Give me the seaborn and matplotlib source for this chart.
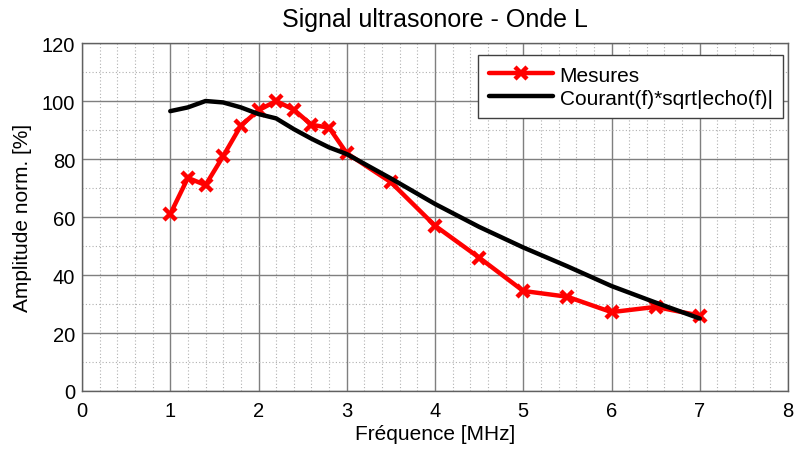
import matplotlib
matplotlib.use("Agg")
import matplotlib.pyplot as plt
from matplotlib.ticker import MultipleLocator
import pandas as pd
import seaborn as sns

# Measured amplitudes
freq_mes = [1.0, 1.2, 1.4, 1.6, 1.8, 2.0, 2.2, 2.4, 2.6, 2.8, 3.0, 3.5, 4.0, 4.5, 5.0, 5.5, 6.0, 6.5, 7.0]
ampl_mes = [61, 73.5, 71, 81, 91.5, 96.8, 100, 97, 91.8, 90.8, 82, 72, 57, 46, 34.5, 32.5, 27.2, 29, 26]

# Model: current(f) * sqrt|echo(f)|
freq_mod = [1.0, 1.2, 1.4, 1.6, 1.8, 2.0, 2.2, 2.4, 2.6, 2.8, 3.0, 3.5, 4.0, 4.5, 5.0, 5.5, 6.0, 6.5, 7.0]
ampl_mod = [96.5, 97.8, 100, 99.5, 97.8, 95.5, 94, 90.3, 87, 84, 81.7, 73.3, 64.5, 56.6, 49.5, 43, 36.2, 30.5, 25]

labels = ["Mesures", "Courant(f)*sqrt|echo(f)|"]

sns.set_style("white")
plt.rcParams["font.family"] = ["Liberation Sans", "DejaVu Sans"]
plt.rcParams["text.color"] = "black"
plt.rcParams["axes.labelcolor"] = "black"
plt.rcParams["xtick.color"] = "black"
plt.rcParams["ytick.color"] = "black"

df_mes = pd.DataFrame({"f": freq_mes, "a": ampl_mes})
df_mod = pd.DataFrame({"f": freq_mod, "a": ampl_mod})

fig = plt.figure(figsize=(7.95, 4.52), dpi=100)
ax = fig.add_axes([82 / 795, 1 - 392 / 452, (788 - 82) / 795, (392 - 44) / 452])

sns.lineplot(data=df_mes, x="f", y="a", ax=ax, color="#ff0000", lw=3.2,
             marker="x", markersize=8, markeredgewidth=3.2, markeredgecolor="#ff0000",
             label=labels[0], zorder=3)
sns.lineplot(data=df_mod, x="f", y="a", ax=ax, color="black", lw=3.2,
             label=labels[1], zorder=3)

ax.set_xlim(0, 8)
ax.set_ylim(0, 120)
ax.xaxis.set_major_locator(MultipleLocator(1))
ax.xaxis.set_minor_locator(MultipleLocator(0.2))
ax.yaxis.set_major_locator(MultipleLocator(20))
ax.yaxis.set_minor_locator(MultipleLocator(10))
ax.grid(which="major", color="#7f7f7f", lw=1.0, ls="-")
ax.grid(which="minor", color="#b0b0b0", lw=0.8, ls=(0, (1, 2)))
ax.set_axisbelow(True)

for s in ax.spines.values():
    s.set_color("#606060")
    s.set_linewidth(1.0)

ax.tick_params(which="major", labelsize=14.5, length=4, direction="in",
               color="#404040", labelcolor="black")
ax.tick_params(axis="x", which="major", pad=7)
ax.tick_params(axis="y", which="major", pad=5)
ax.tick_params(which="minor", length=0)

ax.set_xlabel("Fréquence [MHz]", fontsize=15, labelpad=3, color="black")
ax.set_ylabel("Amplitude norm. [%]", fontsize=15, labelpad=7, color="black")
ax.set_title("Signal ultrasonore - Onde L", fontsize=18, pad=12, color="black")

leg = ax.legend(loc="upper right", fontsize=15, frameon=True, fancybox=False,
                edgecolor="#404040", framealpha=1, borderpad=0.5,
                handlelength=3.1, handletextpad=0.3, labelspacing=0.2,
                borderaxespad=0, bbox_to_anchor=(0.993, 0.965))
leg.get_frame().set_linewidth(1.0)
for t in leg.get_texts():
    t.set_color("black")

fig.savefig("out.png", dpi=100)
